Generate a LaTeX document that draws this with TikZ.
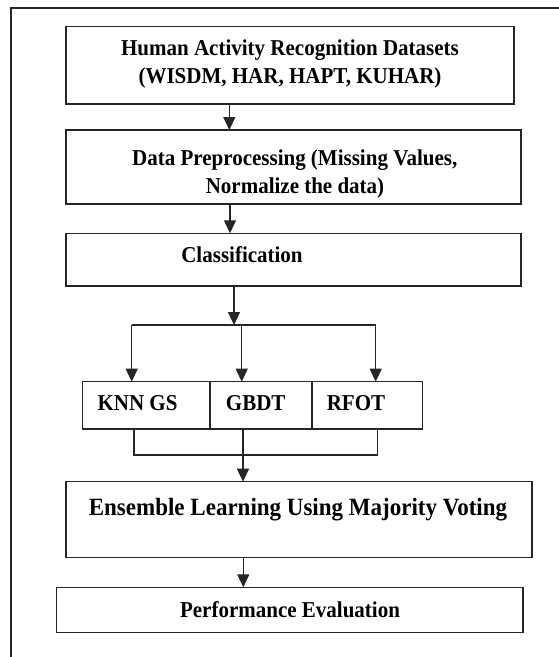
\documentclass[tikz,border=0pt]{standalone}
\usepackage{fontspec}
\setmainfont{Liberation Serif}
\usetikzlibrary{arrows.meta}
\definecolor{linegray}{HTML}{262626}
\newcommand{\tall}[1]{\scalebox{1}[1.08]{#1}}
\begin{document}
\begin{tikzpicture}[x=1pt,y=-1pt,
  box/.style={draw=linegray, line width=1.2pt, inner sep=0pt, outer sep=0pt, anchor=north west},
  label/.style={anchor=base, inner sep=0pt, font=\fontsize{21}{25}\selectfont\bfseries},
  biglabel/.style={label, font=\fontsize{23}{27}\selectfont\bfseries},
  link/.style={draw=linegray, line width=1.2pt},
  arr/.style={link, -{Triangle[width=12pt,length=13pt]}},
  frame/.style={draw=linegray, line width=1.7pt}]
\useasboundingbox (0,0) rectangle (559,657);

% outer frame (only the top and left sides fall inside the page)
\draw[frame] (10.7,657) -- (10.7,8) -- (562,8);

% boxes
\node[box, minimum width=448pt, minimum height=77.3pt] (b1) at (66,26.7) {};
\node[box, minimum width=455pt, minimum height=74pt]   (b2) at (66,130) {};
\node[box, minimum width=455pt, minimum height=52.7pt] (b3) at (66,233.3) {};
\node[box, minimum width=127.3pt, minimum height=47.3pt] (k1) at (82.7,381.7) {};
\node[box, minimum width=102pt, minimum height=47.3pt]   (k2) at (210,381.7) {};
\node[box, minimum width=110.7pt, minimum height=47.3pt] (k3) at (312,381.7) {};
\node[box, minimum width=466pt, minimum height=75.6pt] (b4) at (66,481.7) {};
\node[box, minimum width=466.3pt, minimum height=45.4pt] (b5) at (56.7,587.3) {};

% texts
\node[label] (t1a) at (290,55) {\tall{Human Activity Recognition Datasets}};
\node[label] (t1b) at (290,83) {\tall{(WISDM, HAR, HAPT, KUHAR)}};
\node[label] (t2a) at (294.7,165) {\tall{Data Preprocessing (Missing Values,}};
\node[label] (t2b) at (295,193) {\tall{Normalize the data)}};
\node[label] (t3) at (242,262.7) {\tall{Classification}};
\node[label] (tk1) at (137.5,410.7) {\tall{KNN GS}};
\node[label] (tk2) at (255.7,410.7) {\tall{GBDT}};
\node[label] (tk3) at (356,410.7) {\tall{RFOT}};
\node[biglabel] (t4) at (298,515) {\tall{Ensemble Learning Using Majority Voting}};
\node[label] (t5) at (290,617.7) {\tall{Performance Evaluation}};

% connector positions
\coordinate (c1) at (229.3,0);
\coordinate (c2) at (230,0);
\coordinate (c3) at (234,0);
\coordinate (sL) at (131.7,325);
\coordinate (sM) at (241.7,325);
\coordinate (sR) at (375.7,325);
\coordinate (split) at (234,325);
\coordinate (mL) at (134,455);
\coordinate (mR) at (377.3,455);
\coordinate (mM) at (243,0);
\coordinate (c6) at (243.3,0);

% connectors
\draw[arr] (b1.south -| c1) -- (b2.north -| c1);
\draw[arr] (b2.south -| c2) -- (b3.north -| c2);
\draw[arr] (b3.south -| c3) -- (split);
\draw[link] (sL) -- (sR);
\draw[arr] (sL) -- (k1.north -| sL);
\draw[arr] (sM) -- (k2.north -| sM);
\draw[arr] (sR) -- (k3.north -| sR);
\draw[link] (k1.south -| mL) -- (mL) -- (mR) -- (k3.south -| mR);
\draw[arr] (k2.south -| mM) -- (b4.north -| mM);
\draw[arr] (b4.south -| c6) -- (b5.north -| c6);
\end{tikzpicture}
\end{document}
